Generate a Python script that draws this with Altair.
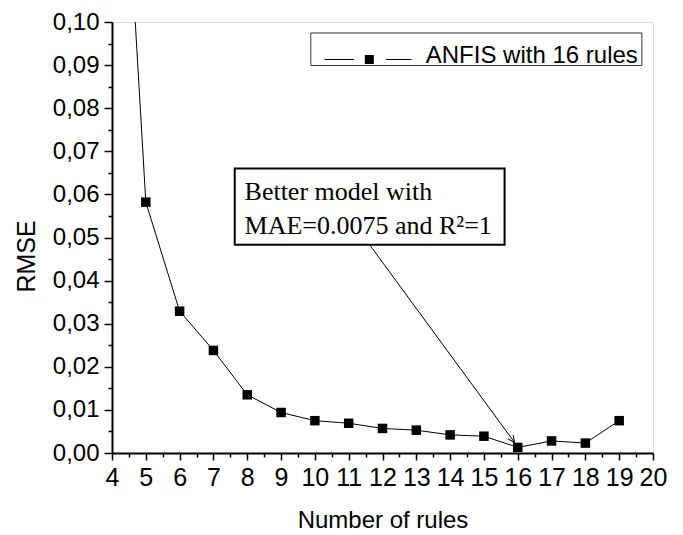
import altair as alt
import pandas as pd

# ---- data ----
rules = [4, 5, 6, 7, 8, 9, 10, 11, 12, 13, 14, 15, 16, 17, 18, 19]
rmse = [0.192, 0.0582, 0.0329, 0.0238, 0.0135, 0.0094, 0.0075, 0.0069,
        0.0057, 0.0053, 0.0042, 0.0039, 0.0013, 0.0028, 0.0023, 0.0075]

x_ticks = [4, 4.5, 5, 5.5, 6, 6.5, 7, 7.5, 8, 8.5, 9, 9.5, 10, 10.5, 11, 11.5,
           12, 12.5, 13, 13.5, 14, 14.5, 15, 15.5, 16, 16.5, 17, 17.5, 18,
           18.5, 19, 19.5, 20]
y_ticks = [0.0, 0.005, 0.01, 0.015, 0.02, 0.025, 0.03, 0.035, 0.04, 0.045,
           0.05, 0.055, 0.06, 0.065, 0.07, 0.075, 0.08, 0.085, 0.09, 0.095, 0.1]

series_name = "ANFIS with 16 rules"
note_lines = ["Better model with", "MAE=0.0075 and R²=1"]

# annotation placement (data units)
legend_box = {"x": [9.88], "x2": [19.67], "y": [0.0899], "y2": [0.09745]}
legend_segs = {"x": [10.29, 12.10], "x2": [11.15, 12.86], "y": [0.0913, 0.0913]}
legend_sym = {"x": [11.61], "y": [0.0913]}
legend_txt = {"x": [13.28], "y": [0.0905], "t": [series_name]}
note_box = {"x": [7.63], "x2": [15.61], "y": [0.0483], "y2": [0.0660]}
note_txt = {"x": [7.92, 7.92], "y": [0.0588, 0.0509], "t": note_lines}
arrow = {"x": [11.62], "x2": [15.91], "y": [0.0483], "y2": [0.0024]}
arrow_head = {"x": [15.91], "y": [0.0024]}

FONT = "Liberation Sans"
SERIF = "Liberation Serif"

df = pd.DataFrame({"x": rules, "y": rmse})

major_y = "abs(datum.value*100 - round(datum.value*100)) < 0.001"
major_x = "abs(datum.value - round(datum.value)) < 0.001"

xscale = alt.Scale(domain=[4, 20], nice=False, zero=False)
yscale = alt.Scale(domain=[0, 0.1], nice=False, zero=False)

x_axis = alt.Axis(
    values=x_ticks, tickCount=100, title="Number of rules", grid=False,
    labelExpr=f"{major_x} ? format(datum.value, 'd') : ''",
    tickSize={"condition": {"test": major_x, "value": 7}, "value": 4},
    tickWidth=1.5, tickColor="black", domainColor="black", domainWidth=2,
    labelFont=FONT, labelFontSize=25, labelColor="black", labelPadding=5,
    labelOverlap=False, labelFlush=False, labelBound=False,
    titleFont=FONT, titleFontSize=24, titleFontWeight="normal", titleColor="black",
    titleBaseline="alphabetic", titleY=74,
)
y_axis = alt.Axis(
    values=y_ticks, tickCount=100, title="RMSE", grid=False,
    labelExpr=f"{major_y} ? replace(format(datum.value, '.2f'), '.', ',') : ''",
    tickSize={"condition": {"test": major_y, "value": 8}, "value": 4},
    tickWidth=1.5, tickColor="black", domainColor="black", domainWidth=2,
    labelFont=FONT, labelFontSize=24, labelColor="black", labelPadding=5,
    labelOverlap=False, labelFlush=False, labelBound=False,
    titleFont=FONT, titleFontSize=25, titleFontWeight="normal", titleColor="black",
    titleBaseline="alphabetic", titleX=-78, titleY=234,
)

line = alt.Chart(df).mark_line(color="black", strokeWidth=1, clip=True).encode(
    x=alt.X("x:Q", scale=xscale, axis=x_axis),
    y=alt.Y("y:Q", scale=yscale, axis=y_axis),
)
pts = alt.Chart(df).mark_point(shape="square", filled=True, size=90, color="black",
                               opacity=1, clip=True).encode(x="x:Q", y="y:Q")

leg_box = alt.Chart(pd.DataFrame(legend_box)).mark_rect(
    fill="white", stroke="#333333", strokeWidth=1).encode(
    x="x:Q", x2="x2", y="y:Q", y2="y2")
leg_seg = alt.Chart(pd.DataFrame(legend_segs)).mark_rule(
    color="black", strokeWidth=1).encode(x="x:Q", x2="x2", y="y:Q")
leg_sym = alt.Chart(pd.DataFrame(legend_sym)).mark_point(
    shape="square", filled=True, size=81, color="black", opacity=1).encode(x="x:Q", y="y:Q")
leg_txt = alt.Chart(pd.DataFrame(legend_txt)).mark_text(
    font=FONT, fontSize=24, align="left", baseline="alphabetic", color="black").encode(
    x="x:Q", y="y:Q", text="t:N")

n_box = alt.Chart(pd.DataFrame(note_box)).mark_rect(
    fill="white", stroke="black", strokeWidth=2).encode(
    x="x:Q", x2="x2", y="y:Q", y2="y2")
n_txt = alt.Chart(pd.DataFrame(note_txt)).mark_text(
    font=SERIF, fontSize=26, align="left", baseline="alphabetic", color="black").encode(
    x="x:Q", y="y:Q", text="t:N")
n_arrow = alt.Chart(pd.DataFrame(arrow)).mark_rule(
    color="black", strokeWidth=1).encode(x="x:Q", x2="x2", y="y:Q", y2="y2")
n_head = alt.Chart(pd.DataFrame(arrow_head)).mark_point(
    shape="M -0.45 -1 L 0 0 L 0.45 -1", filled=False, size=196, color="black",
    strokeWidth=1, angle=324, opacity=1).encode(x="x:Q", y="y:Q")

chart = alt.layer(
    line, pts, leg_box, leg_seg, leg_sym, leg_txt, n_arrow, n_head, n_box, n_txt
).properties(
    width=541, height=431,
    autosize=alt.AutoSizeParams(type="none"),
    padding={"left": 104, "top": 14, "right": 18, "bottom": 80},
).configure_view(
    stroke="black", strokeWidth=2
).configure(background="white")

chart.save("out.html", embed_options={"renderer": "svg", "actions": False})
